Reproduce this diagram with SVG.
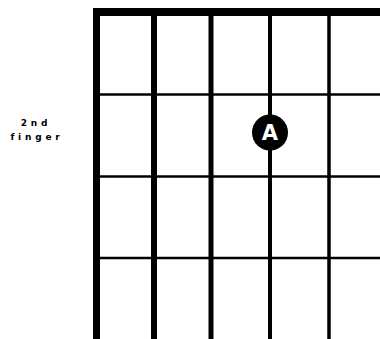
<svg xmlns="http://www.w3.org/2000/svg" width="380" height="339" viewBox="0 0 380 339">
<style>
.str{stroke:#000;fill:none}
.fret{stroke:#000;stroke-width:2.5}
.lbl{font-family:"DejaVu Sans","Liberation Sans",Arial,sans-serif;font-weight:bold;font-size:9px;letter-spacing:3.8px;fill:#000;text-anchor:middle}
.dot{fill:#000}
.dotlbl{font-family:"DejaVu Sans","Liberation Sans",Arial,sans-serif;font-weight:bold;font-size:21px;fill:#fff;text-anchor:middle}
</style>
<rect width="380" height="339" fill="#fff"/>
<g id="fretboard">
<rect id="nut" x="93" y="8" width="287" height="8" fill="#000"/>
<line class="fret" x1="96" y1="94.5" x2="380" y2="94.5"/>
<line class="fret" x1="96" y1="176.5" x2="380" y2="176.5"/>
<line class="fret" x1="96" y1="258" x2="380" y2="258"/>
<line class="str" x1="96.5" y1="8" x2="96.5" y2="339" stroke-width="7"/>
<line class="str" x1="154" y1="8" x2="154" y2="339" stroke-width="6"/>
<line class="str" x1="211" y1="8" x2="211" y2="339" stroke-width="5"/>
<line class="str" x1="270" y1="8" x2="270" y2="339" stroke-width="4"/>
<line class="str" x1="329" y1="8" x2="329" y2="339" stroke-width="3.5"/>
</g>
<g id="finger-label">
<text class="lbl" x="36" y="126">2nd</text>
<text class="lbl" x="37" y="140">finger</text>
</g>
<g id="dot-A">
<circle class="dot" cx="270" cy="132.5" r="18"/>
<text class="dotlbl" x="270" y="140">A</text>
</g>
</svg>
